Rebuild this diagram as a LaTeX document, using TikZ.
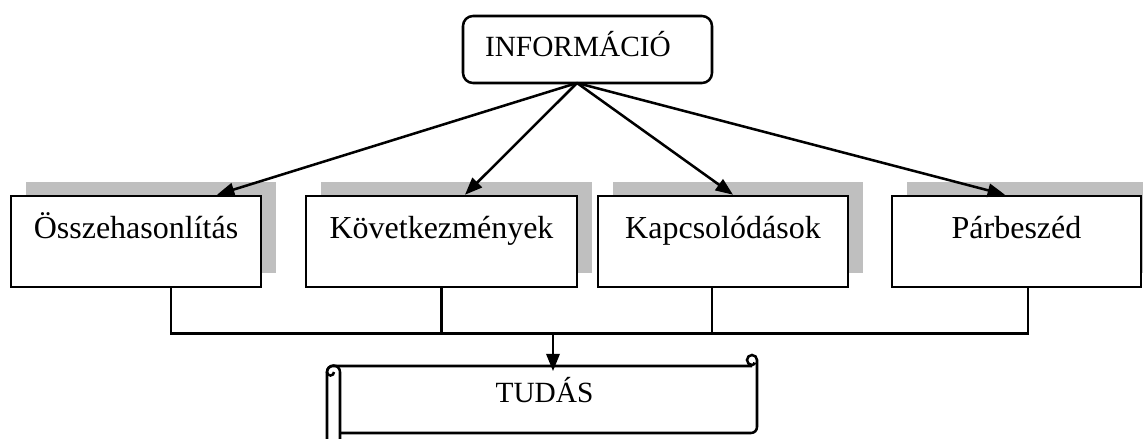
\documentclass[tikz,border=0pt]{standalone}
\usepackage{fontspec}
\setmainfont{Liberation Serif}
\usetikzlibrary{arrows.meta,calc,shadows}

\begin{document}
\begin{tikzpicture}[x=0.75pt,y=0.75pt,yscale=-1,xscale=1,
  line width=1.9pt,
  idea/.style={draw, fill=white, anchor=base, inner xsep=0pt, inner ysep=0pt,
    text height=31.5pt, text depth=36.75pt, font=\fontsize{24}{28}\selectfont,
    general shadow={fill=black!25, shadow xshift=11.25pt, shadow yshift=10.5pt}},
  feed/.style={-{Triangle[length=13pt,width=10pt]}}]
\useasboundingbox (0,0) rectangle (1143,439);

% top
\node (info) [draw, rounded corners=7.5pt, inner xsep=16.5pt, inner ysep=0pt, text width=153.75pt, align=left, text height=30pt, text depth=20.25pt, font=\fontsize{22}{26}\selectfont] at (587.5,49.5) {INFORMÁCIÓ};
\coordinate (hub) at (577,83);

% boxes
\node (cmp) [idea, minimum width=187.5pt] at (136,238) {Összehasonlítás};
\node (csq) [idea, minimum width=203.25pt] at (441.5,238) {Következmények};
\node (lnk) [idea, minimum width=187.5pt] at (723,238) {Kapcsolódások};
\node (dlg) [idea, minimum width=186.75pt] at (1016.5,238) {Párbeszéd};

\draw [feed] (hub) -- ($(cmp.north)+(81,0)$);
\draw [feed] (hub) -- ($(csq.north)+(23.5,0)$);
\draw [feed] (hub) -- ($(lnk.north)+(10,0)$);
\draw [feed] (hub) -- ($(dlg.north)+(-11.5,0)$);

% scroll
\draw (327,439) -- (327,372) arc(180:270:6) -- (752,366);
\draw (340,439) -- (340,372) arc(0:-180:6.5) arc(-180:-360:3.5);
\draw (757,427) -- (757,360) arc(0:-270:5) arc(90:0:2.5);
\draw (757,427) arc(0:90:6) -- (340,433);
\node (tudas) [anchor=base, font=\fontsize{22}{26}\selectfont] at (544.5,402) {TUDÁS};

% bus
\coordinate (bus) at (553,332);
\draw ($(cmp.south)+(35,0)$) -- ++(0,45) -| ($(dlg.south)+(11.5,0)$);
\draw (csq.south) -- ++(0,45);
\draw ($(lnk.south)+(-11,0)$) -- ++(0,45);
\draw [feed] (bus) -- ($(tudas.north)+(8.5,0)$);
\end{tikzpicture}
\end{document}
